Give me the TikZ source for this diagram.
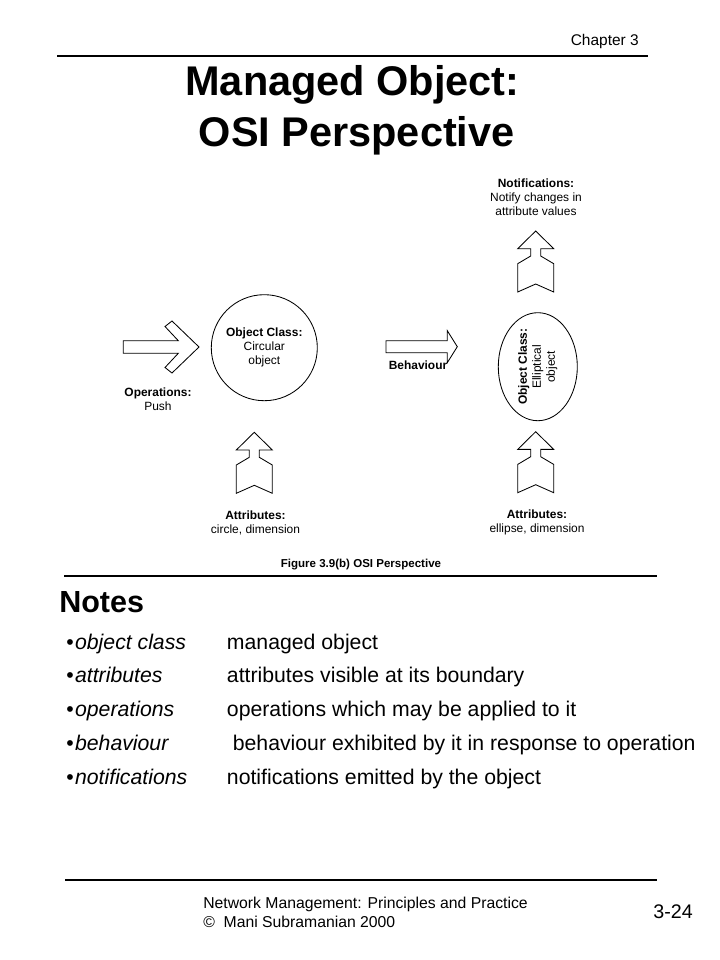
\documentclass[tikz,border=0pt]{standalone}
\usepackage{fontspec}
\setmainfont{Liberation Sans}
\usetikzlibrary{shapes.geometric}

\begin{document}
\begin{tikzpicture}[
    x=0.025cm, y=-0.025cm,
    rule/.style={line width=0.8pt},
    blk/.style={draw, line width=0.6pt, line join=miter},
    lbl/.style={font=\fontsize{8.5}{10}\selectfont, align=center, inner sep=0pt},
    note/.style={font=\fontsize{15.1}{17}\selectfont, anchor=base west, inner sep=0pt},
    foot/.style={font=\fontsize{11.2}{14}\selectfont, anchor=base west, inner sep=0pt},
  ]
  \useasboundingbox[fill=white] (0,0) rectangle (720,960);

  % Header
  \node[font=\fontsize{11}{13}\selectfont, anchor=base east, inner sep=0pt]
    (chap) at (639,45) {Chapter 3};
  \draw[rule] (57,56) -- (648,56);
  \node[font=\bfseries\fontsize{29.5}{32}\selectfont, anchor=base, inner sep=0pt]
    (title) at (352.5,95) {Managed Object:};
  \node[font=\bfseries\fontsize{29.5}{32}\selectfont, anchor=base, inner sep=0pt]
    (subtitle) at (356.7,146.7) {OSI Perspective};

  % Circular object
  \node[draw, circle, line width=0.6pt, minimum size=2.65cm, lbl]
    (circ) at (264.3,347.7) {\textbf{Object Class:}\\Circular\\object};

  % Operations arrow
  \coordinate (opsTip) at (199,347);
  \draw[blk] (opsTip) -- +(-27,-26) -- +(-34,-20.5) -- +(-20.7,-6.3)
    -- +(-75.7,-6.3) -- +(-75.7,6.3) -- +(-20.7,6.3) -- +(-34,20.5)
    -- +(-27,26) -- cycle;
  \node[lbl] (ops) at (158,399) {\textbf{Operations:}\\Push};

  % Behaviour arrow
  \coordinate (behTip) at (457.3,346.7);
  \draw[blk] (behTip) -- +(-10,-16) -- +(-10,-6) -- +(-71.3,-6)
    -- +(-71.3,6) -- +(-10,6) -- +(-10,16) -- cycle;
  \node[lbl, font=\bfseries\fontsize{8.5}{10}\selectfont]
    (beh) at (418,365) {Behaviour};

  % Elliptical object
  \node[draw, ellipse, line width=0.6pt, rotate=90, minimum width=2.58cm,
        minimum height=1.975cm, lbl]
    (ell) at (537.8,366.7) {\textbf{Object Class:}\\Elliptical\\object};

  % Up arrows: attributes and notifications
  \coordinate (attrTipL) at (254.3,432.3);
  \coordinate (attrTipR) at (535.7,431.7);
  \coordinate (notiTip) at (535.7,231);
  \foreach \c in {attrTipL,attrTipR,notiTip} {
    \draw[blk] (\c) -- +(18,17.7) -- +(5,17.7) -- +(5,25) -- +(18,32.7)
      -- +(18,61) -- +(0,53) -- +(-18,61) -- +(-18,32.7) -- +(-5,25)
      -- +(-5,17.7) -- +(-18,17.7) -- cycle;
  }
  \node[lbl] (attrL) at (255.5,522.7) {\textbf{Attributes:}\\circle, dimension};
  \node[lbl] (attrR) at (537,522.7) {\textbf{Attributes:}\\ellipse, dimension};
  \node[lbl] (noti) at (536,197.4)
    {\textbf{Notifications:}\\Notify changes in\\attribute values};

  % Caption
  \node[font=\bfseries\fontsize{8.2}{10}\selectfont, anchor=base, inner sep=0pt]
    (cap) at (361,567) {Figure 3.9(b) OSI Perspective};
  \draw[rule] (64,576) -- (657,576);

  % Notes
  \node[font=\bfseries\fontsize{21.7}{24}\selectfont, anchor=base west, inner sep=0pt]
    (notes) at (59,612.3) {Notes};
  \foreach \term/\desc [count=\i] in {
      object class/managed object,
      attributes/attributes visible at its boundary,
      operations/operations which may be applied to it,
      behaviour/\ behaviour exhibited by it in response to operation,
      notifications/notifications emitted by the object} {
    \node[note] (term\i) at (66,{649+33.75*(\i-1)})
      {\textbullet\kern1pt\textit{\term}};
    \node[note] (desc\i) at (226.7,{649+33.75*(\i-1)}) {\desc};
  }

  % Footer
  \draw[rule] (65,880) -- (657,880);
  \node[foot] (book) at (203,908) {Network Management: Principles and Practice};
  \node[foot] (copy) at (203,927.7) {©~~Mani Subramanian 2000};
  \node[font=\fontsize{14}{16}\selectfont, anchor=base east, inner sep=0pt]
    (page) at (693,918) {3-24};

\end{tikzpicture}
\end{document}
